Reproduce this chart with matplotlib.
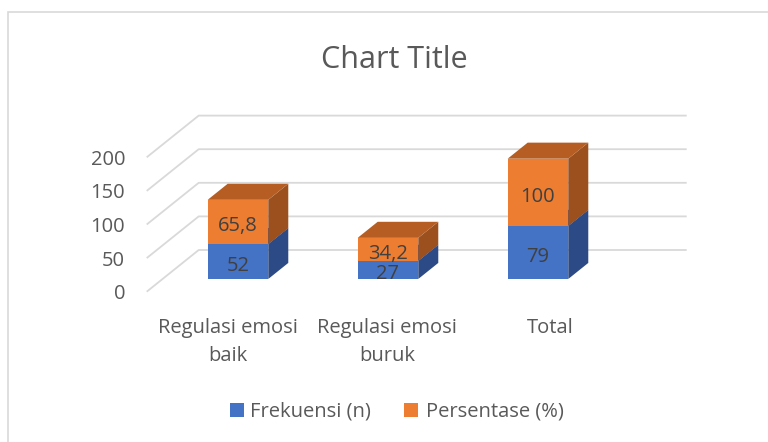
import matplotlib
matplotlib.use("Agg")
import matplotlib.pyplot as plt
from matplotlib.patches import Polygon, Rectangle
from matplotlib.transforms import blended_transform_factory

# ---- data ----
categories = ["Regulasi emosi\nbaik", "Regulasi emosi\nburuk", "Total"]
frekuensi = [52, 27, 79]
persentase = [65.8, 34.2, 100]
frek_labels = ["52", "27", "79"]
pers_labels = ["65,8", "34,2", "100"]
yticks = [0, 50, 100, 150, 200]
series_names = ["Frekuensi (n)", "Persentase (%)"]

# ---- style ----
plt.rcParams['font.family'] = ['Open Sans', 'DejaVu Sans']
W, H = 768, 442
FS = 14.5
TXT = '#595959'
LBL = '#404040'
GRID = '#D9D9D9'
front_c = ['#4472C4', '#ED7D31']
top_c = ['#3A63AC', '#B55D23']
side_c = ['#2C4A86', '#9B501D']

fig = plt.figure(figsize=(W / 100, H / 100), dpi=100)


def fx(px):
    return px / W


def fy(py):
    return 1 - py / H


# chart border (only top/left visible in reference)
fig.patches.append(Rectangle((fx(7.5), -0.2), 1.5, fy(12) + 0.2,
                             transform=fig.transFigure, fill=False,
                             ec=GRID, lw=1.2))

ax = fig.add_axes([fx(146.7), fy(291.7), 488 / W, 134.4 / H])
ax.set_xlim(-0.5027, 2.7507)
ax.set_ylim(0, 200)
ax.patch.set_alpha(0)
for s in ax.spines.values():
    s.set_visible(False)
ax.set_xticks([])
ax.set_yticks(yticks)
ax.set_yticklabels([str(t) for t in yticks])
ax.tick_params(axis='y', length=0, pad=15.6, labelsize=FS, labelcolor=TXT)

# depth geometry (data units per full depth)
DX = 52 / 150
DY = 41.7 / 0.672
d0, d1 = 0.305, 0.69
bw = 60.6 / 150


def P(x, v, d):
    return (x + DX * d, v + DY * d)


xmin, xmax = ax.get_xlim()
for t in yticks:
    pts = [P(xmin, t, 0), P(xmin, t, 1), P(xmax, t, 1)]
    ax.plot([p[0] for p in pts], [p[1] for p in pts], color=GRID, lw=1.3,
            clip_on=False, zorder=1, solid_capstyle='butt')

for i in range(len(categories)):
    segs = [(0, frekuensi[i], 0, frek_labels[i]),
            (frekuensi[i], frekuensi[i] + persentase[i], 1, pers_labels[i])]
    xl, xr = i - bw / 2, i + bw / 2
    for lo, hi, k, lab in segs:
        side = [P(xr, lo, d0), P(xr, lo, d1), P(xr, hi, d1), P(xr, hi, d0)]
        top = [P(xl, hi, d0), P(xr, hi, d0), P(xr, hi, d1), P(xl, hi, d1)]
        front = [P(xl, lo, d0), P(xr, lo, d0), P(xr, hi, d0), P(xl, hi, d0)]
        ax.add_patch(Polygon(side, closed=True, fc=side_c[k], ec='none',
                             clip_on=False, zorder=2))
        ax.add_patch(Polygon(top, closed=True, fc=top_c[k], ec='none',
                             clip_on=False, zorder=2 + k))
        ax.add_patch(Polygon(front, closed=True, fc=front_c[k], ec='none',
                             clip_on=False, zorder=4))
        ax.annotate(lab, xy=P(i, (lo + hi) / 2, d0), xytext=(0, -9.5 * 0.72),
                    textcoords='offset points', ha='center', va='baseline',
                    fontsize=FS, color=LBL, zorder=5, annotation_clip=False)

# category labels (first line baseline at ~333 px from top, line pitch ~28 px)
label_shift_px = [-10, -1, 12]
btr = blended_transform_factory(ax.transData, fig.transFigure)
for i, c in enumerate(categories):
    x = P(i, 0, d0)[0] + label_shift_px[i] / 150
    nlines = c.count("\n") + 1
    ax.text(x, fy(333 + 28 * (nlines - 1)), c, transform=btr, ha='center',
            va='baseline', fontsize=FS, color=TXT, linespacing=1.56,
            clip_on=False)

# title
fig.text(fx(394.7), fy(67.7), "Chart Title", ha='center', va='baseline',
         fontsize=22, color=TXT)

# legend
leg_x = [230, 403.5]
leg_tx = [250, 426]
for k in range(2):
    fig.patches.append(Rectangle((fx(leg_x[k]), fy(416.7)), 14 / W, 14 / H,
                                 transform=fig.transFigure, fc=front_c[k],
                                 ec='none'))
    fig.text(fx(leg_tx[k]), fy(417), series_names[k], ha='left',
             va='baseline', fontsize=FS, color=TXT)

fig.savefig("out.png", dpi=100)
